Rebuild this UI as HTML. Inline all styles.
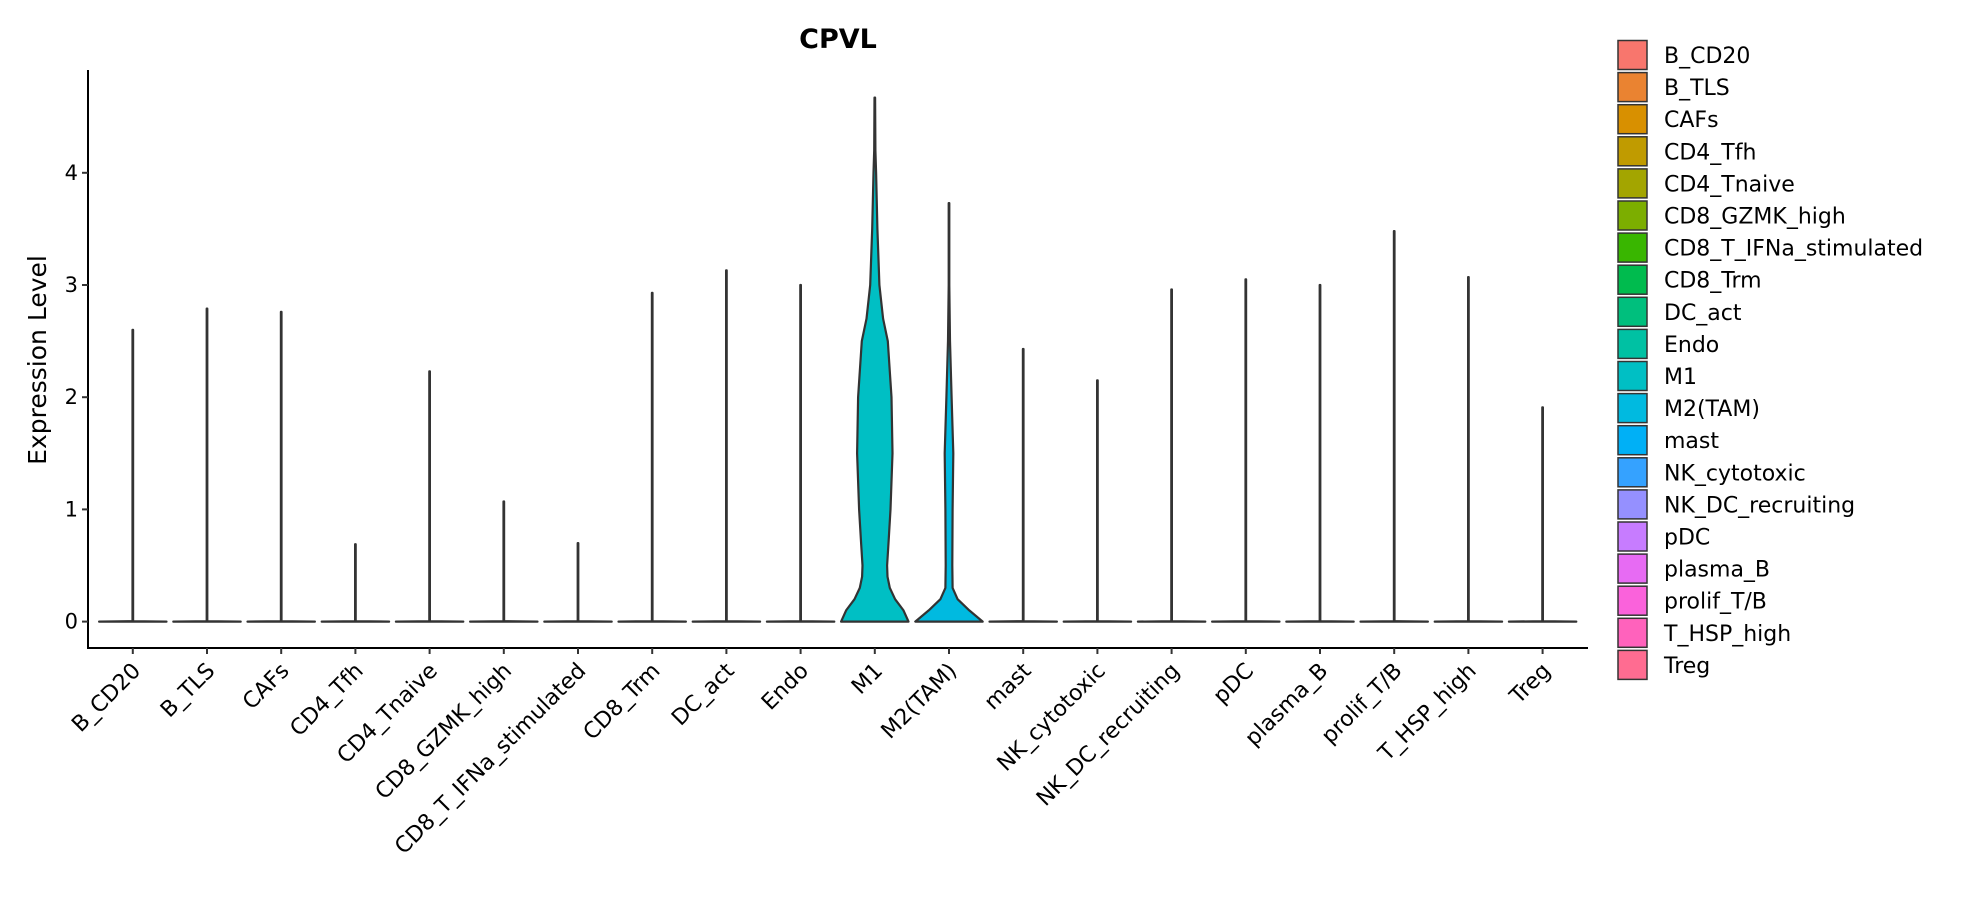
<!DOCTYPE html>
<html><head><meta charset="utf-8"><style>
html,body{margin:0;padding:0;background:#fff;}
svg{display:block;font-family:"DejaVu Sans","Liberation Sans",sans-serif;}
</style></head><body>
<svg id="chart" width="1965" height="900" viewBox="0 0 1965 900" xmlns="http://www.w3.org/2000/svg">
<text x="838" y="48" text-anchor="middle" font-size="27" font-weight="bold" fill="#000">CPVL</text>
<text transform="translate(46,360) rotate(-90)" text-anchor="middle" font-size="25" fill="#000">Expression Level</text>
<g id="plot"></g>
<g id="legend"></g>
</svg>
<script>
const categories = ["B_CD20","B_TLS","CAFs","CD4_Tfh","CD4_Tnaive","CD8_GZMK_high","CD8_T_IFNa_stimulated","CD8_Trm","DC_act","Endo","M1","M2(TAM)","mast","NK_cytotoxic","NK_DC_recruiting","pDC","plasma_B","prolif_T/B","T_HSP_high","Treg"];
const maxValues = [2.6,2.79,2.76,0.69,2.23,1.07,0.7,2.93,3.13,3.0,4.67,3.73,2.43,2.15,2.96,3.05,3.0,3.48,3.07,1.91];
const colors = ["#F8766D","#EA8331","#D89000","#C09B00","#A3A500","#7CAE00","#39B600","#00BB4E","#00BF7D","#00C1A3","#00BFC4","#00BAE0","#00B0F6","#35A2FF","#9590FF","#C77CFF","#E76BF3","#FA62DB","#FF62BC","#FF6C91"];
const yTicks = [0,1,2,3,4];
const m1Levels = [0,0.1,0.2,0.3,0.4,0.5,0.7,1,1.5,2,2.5,2.7,3,3.5,4,4.2,4.67];
const m1Density = [1,0.85,0.6,0.44,0.37,0.36,0.4,0.46,0.52,0.49,0.38,0.24,0.13,0.07,0.03,0.01,0];
const m2Levels = [0,0.1,0.2,0.3,0.5,1,1.5,2,2.5,3,3.73];
const m2Density = [1,0.6,0.25,0.1,0.09,0.1,0.12,0.07,0.02,0.0,0];

const NS="http://www.w3.org/2000/svg";
const axL=88, axB=648, axT=70, axR=1588;
const y0=621.6, yUnit=112.2, x0=132.8, xStep=74.2, halfW=33.4;
const yScale=v=>y0-v*yUnit;
const xScale=i=>x0+i*xStep;
function mk(tag,attrs,parent){const e=document.createElementNS(NS,tag);for(const k in attrs)e.setAttribute(k,attrs[k]);parent.appendChild(e);return e;}
const plot=document.getElementById('plot');

categories.forEach((c,i)=>{
  const cx=xScale(i);
  let lv,dn;
  if(c==="M1"){lv=m1Levels;dn=m1Density;}
  else if(c==="M2(TAM)"){lv=m2Levels;dn=m2Density;}
  else {lv=[0,0.004,maxValues[i]];dn=[1,0,0];}
  let L=[],R=[];
  for(let k=0;k<lv.length;k++){const y=yScale(lv[k]);const w=dn[k]*halfW+0.3;L.push([cx-w,y]);R.push([cx+w,y]);}
  let d="M"+R.map(p=>p[0].toFixed(1)+","+p[1].toFixed(1)).join(" L")+" L"+L.reverse().map(p=>p[0].toFixed(1)+","+p[1].toFixed(1)).join(" L")+" Z";
  const p=mk('path',{d:d,fill:colors[i],stroke:'#333','stroke-width':2.2,'stroke-linejoin':'round'},plot);
  
  
});

const ya=mk('line',{x1:axL,y1:axT,x2:axL,y2:axB+1,stroke:'#000','stroke-width':2},plot);


const xa=mk('line',{x1:axL-1,y1:axB,x2:axR,y2:axB,stroke:'#000','stroke-width':2},plot);



yTicks.forEach(v=>{
  const y=yScale(v);
  const t=mk('line',{x1:axL-6,y1:y,x2:axL,y2:y,stroke:'#333','stroke-width':2},plot);
  
  
  const tx=mk('text',{x:axL-10,y:y+7,'text-anchor':'end','font-size':21,fill:'#000'},plot);
  tx.textContent=v;
  
  
});

categories.forEach((c,i)=>{
  const x=xScale(i);
  const t=mk('line',{x1:x,y1:axB,x2:x,y2:axB+6,stroke:'#333','stroke-width':2},plot);
  
  
  const tx=mk('text',{transform:`translate(${x+9},${axB+24}) rotate(-45)`,'text-anchor':'end','font-size':22,fill:'#000'},plot);
  tx.textContent=c;
  
  
});

const leg=document.getElementById('legend');
categories.forEach((c,i)=>{
  const y=55+i*32.1;
  const r=mk('rect',{x:1618,y:y-14.5,width:29,height:29,fill:colors[i],stroke:'#333','stroke-width':1.5},leg);
  
  
  const tx=mk('text',{x:1664,y:y+8,'font-size':22,fill:'#000'},leg);
  tx.textContent=c;
  
  
});
</script>
</body></html>
